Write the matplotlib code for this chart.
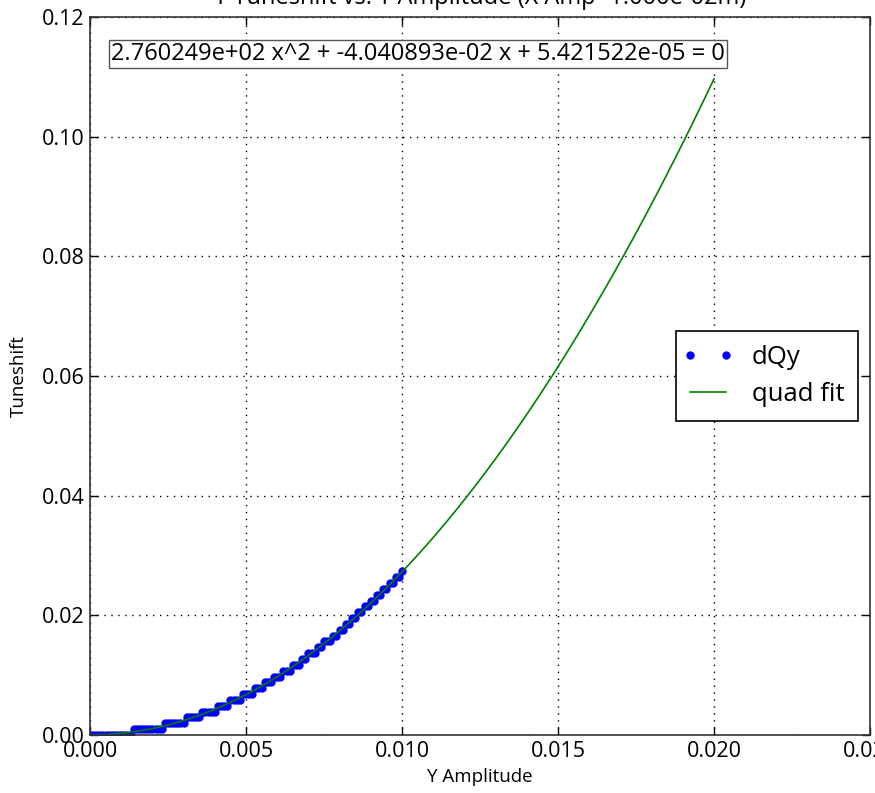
import numpy as np
import matplotlib
matplotlib.use("Agg")
import matplotlib.pyplot as plt
from matplotlib.lines import Line2D
from matplotlib.legend_handler import HandlerLine2D

plt.rcParams['font.family'] = ['Open Sans', 'DejaVu Sans']

# amplitude scan (m) and measured tune shift
y_amp = np.linspace(0.0, 0.01, 101)
dqy = [
    0.0, 0.0, 0.0, 0.0, 0.0, 0.0, 0.0, 0.0, 0.0, 0.0,
    0.0, 0.0, 0.0, 0.0, 0.00098, 0.00098, 0.00098, 0.00098, 0.00098, 0.00098,
    0.00098, 0.00098, 0.00098, 0.00098, 0.00195, 0.00195, 0.00195, 0.00195, 0.00195, 0.00195,
    0.00195, 0.00293, 0.00293, 0.00293, 0.00293, 0.00293, 0.00391, 0.00391, 0.00391, 0.00391,
    0.00391, 0.00488, 0.00488, 0.00488, 0.00488, 0.00586, 0.00586, 0.00586, 0.00586, 0.00684,
    0.00684, 0.00684, 0.00684, 0.00781, 0.00781, 0.00781, 0.00879, 0.00879, 0.00879, 0.00977,
    0.00977, 0.00977, 0.01074, 0.01074, 0.01074, 0.01172, 0.01172, 0.01172, 0.0127, 0.0127,
    0.01367, 0.01367, 0.01367, 0.01465, 0.01465, 0.01563, 0.01563, 0.01563, 0.0166, 0.0166,
    0.01758, 0.01758, 0.01855, 0.01855, 0.01953, 0.01953, 0.02051, 0.02051, 0.02148, 0.02148,
    0.02246, 0.02246, 0.02344, 0.02344, 0.02441, 0.02441, 0.02539, 0.02539, 0.02637, 0.02637,
    0.02734,
]

# quadratic fit coefficients (highest power first)
coeffs = [2.760249e+02, -4.040893e-02, 5.421522e-05]
fit_x = np.linspace(0.0, 0.02, 200)
fit_y = np.polyval(coeffs, fit_x)

title = "Y Tuneshift vs. Y Amplitude (X Amp=1.000e-02m)"

fig = plt.figure(figsize=(8.75, 7.93), dpi=100)
ax = fig.add_axes([90 / 875, 1 - 735 / 793, 780 / 875, 718 / 793])

ax.plot(y_amp, dqy, 'o', color='b', markersize=6, markeredgewidth=0, label='dQy')
ax.plot(fit_x, fit_y, '-', color='g', linewidth=1.2, label='quad fit')

ax.set_xlim(0, 0.025)
ax.set_ylim(0, 0.12)
ax.set_xticks([0.0, 0.005, 0.010, 0.015, 0.020, 0.025])
ax.set_xticklabels(['0.000', '0.005', '0.010', '0.015', '0.020', '0.025'])
ax.set_yticks([0.0, 0.02, 0.04, 0.06, 0.08, 0.10, 0.12])
ax.set_yticklabels(['0.00', '0.02', '0.04', '0.06', '0.08', '0.10', '0.12'])
ax.tick_params(direction='in', top=True, right=True, length=6, width=1,
               labelsize=15.5, pad=4, colors='black')
ax.grid(True, color='black', linestyle=(0, (1, 4)), linewidth=1.0)
for s in ax.spines.values():
    s.set_linewidth(1.2)
    s.set_color('#333333')

ax.set_xlabel("Y Amplitude", fontsize=13.5, labelpad=5)
ax.set_ylabel("Tuneshift", fontsize=13.5, labelpad=10)

fig.text(0.5 * (90 + 870) / 875, 1 - 4 / 793, title, ha='center', va='baseline', fontsize=17)

eq = "%e x^2 + %e x + %e = 0" % tuple(coeffs)
ax.text(0.027, 0.948, eq, transform=ax.transAxes, fontsize=17, ha='left', va='center',
        bbox=dict(boxstyle='square,pad=0.08', facecolor='white', edgecolor='#555555', linewidth=1))

leg = ax.legend(loc='center right', numpoints=2, fontsize=18.5, fancybox=False,
                framealpha=1, edgecolor='black', borderaxespad=0.45, handlelength=1.4,
                handletextpad=1.0, borderpad=0.55, labelspacing=0.45,
                handler_map={Line2D: HandlerLine2D(marker_pad=0, numpoints=2)})
leg.get_frame().set_linewidth(1.2)

fig.savefig("out.png", dpi=100)
